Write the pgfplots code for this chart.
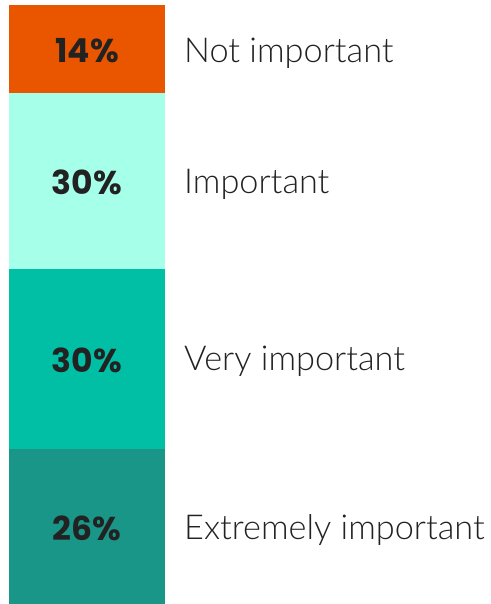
\documentclass[border=0pt]{standalone}
\usepackage{pgfplots}
\pgfplotsset{compat=1.18}
\usepackage{fontspec}
\setmainfont{Lato}
\newfontfamily\labfont{Lato Light}
\newfontfamily\pctfont{Poppins}
\definecolor{cnot}{HTML}{EA5600}
\definecolor{cimp}{HTML}{A6FFE9}
\definecolor{cvery}{HTML}{00BFA5}
\definecolor{cext}{HTML}{1A9688}
\definecolor{ctxt}{HTML}{222222}
\newcommand{\pctstyle}{\pctfont\bfseries\fontsize{33pt}{34pt}\selectfont}
\newcommand{\labstyle}{\labfont\fontsize{34.3pt}{35pt}\selectfont}
\begin{document}
\begin{tikzpicture}
\path[use as bounding box] (0,0) rectangle (490pt,604pt);
\begin{axis}[
  at={(9pt,0pt)}, anchor=south west,
  scale only axis, width=156pt, height=599pt,
  xmin=-0.5, xmax=0.5, ymin=0, ymax=100,
  hide axis, clip=false,
  ybar stacked, bar width=156pt,
  point meta=explicit symbolic,
  nodes near coords={\pgfplotspointmeta\%},
  every node near coord/.append style={anchor=center, font=\pctstyle, text=ctxt, yshift=-1.5pt},
]
\addplot[fill=cext, draw=none] coordinates {(0,25.9) [26]};
\addplot[fill=cvery, draw=none] coordinates {(0,30.0) [30]};
\addplot[fill=cimp, draw=none] coordinates {(0,29.4) [30]};
\addplot[fill=cnot, draw=none] coordinates {(0,14.7) [14]};
\node[anchor=base west, inner sep=0pt, text=ctxt, font=\labstyle, xshift=19pt] at (axis cs:0.5,10.85) {Extremely important};
\node[anchor=base west, inner sep=0pt, text=ctxt, font=\labstyle, xshift=19pt] at (axis cs:0.5,38.90) {Very important};
\node[anchor=base west, inner sep=0pt, text=ctxt, font=\labstyle, xshift=19pt] at (axis cs:0.5,68.45) {Important};
\node[anchor=base west, inner sep=0pt, text=ctxt, font=\labstyle, xshift=19pt] at (axis cs:0.5,90.32) {Not important};
\end{axis}
\end{tikzpicture}
\end{document}
